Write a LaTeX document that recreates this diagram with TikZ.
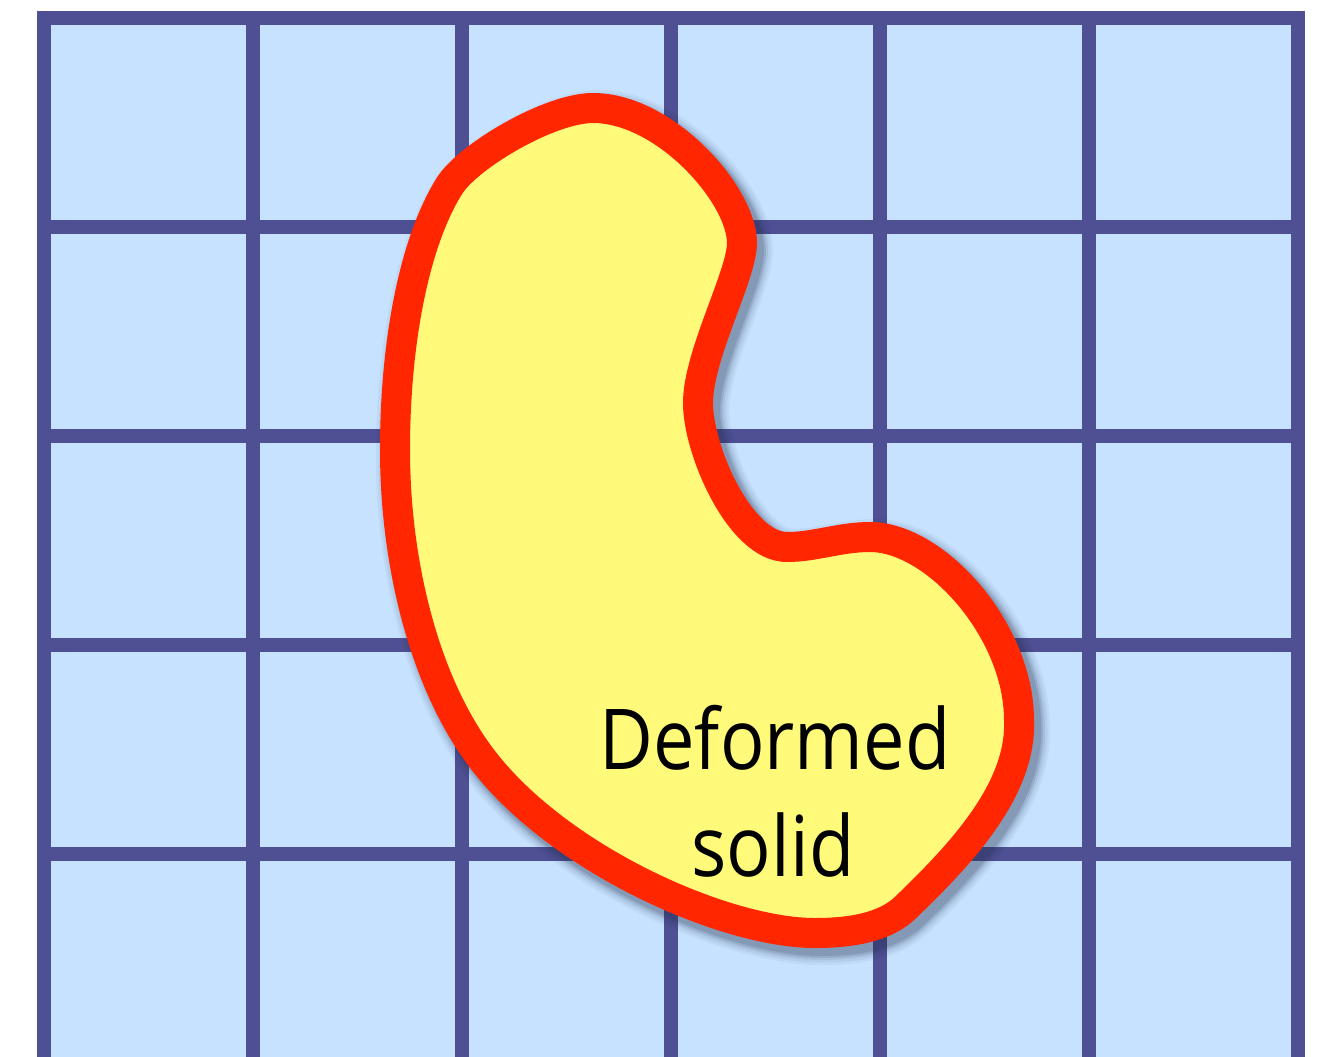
\documentclass[tikz,border=0pt]{standalone}
\usepackage{fontspec}
\newfontfamily\labfont[FakeStretch=0.88]{Open Sans}
\definecolor{gridline}{RGB}{79,79,148}
\definecolor{cellfill}{RGB}{199,226,255}
\definecolor{solidfill}{RGB}{255,250,122}
\definecolor{solidedge}{RGB}{255,38,0}
\definecolor{shadowc}{RGB}{35,50,80}
\tikzset{
  gridstroke/.style={draw=gridline, line width=10.1pt, line cap=rect},
  blobedge/.style={draw=solidedge, fill=solidfill, line width=22.5pt, line join=round},
  shadowstroke/.style={draw=shadowc, fill=shadowc, line join=round},
  labelstyle/.style={font=\labfont\fontsize{63}{80}\selectfont, align=center, text=black, inner sep=0pt}
}
\def\blobpath{(593,108) .. controls (665,108) and (742,195) .. (742,243)
  .. controls (742,275) and (698,355) .. (698,403)
  .. controls (698,450) and (740,547) .. (787,547)
  .. controls (815,547) and (840,537) .. (870,537)
  .. controls (935,537) and (1019,630) .. (1019,720)
  .. controls (1022,790) and (960,855) .. (905,908)
  .. controls (888,924) and (860,933) .. (815,933)
  .. controls (725,933) and (560,860) .. (483,760)
  .. controls (423,682) and (395,560) .. (395,450)
  .. controls (395,340) and (415,240) .. (450,185)
  .. controls (470,155) and (550,108) .. (593,108) -- cycle}
\begin{document}
\begin{tikzpicture}[x=0.75pt,y=-0.75pt]
\useasboundingbox (0,0) rectangle (1332,1057);
\clip (0,0) rectangle (1332,1057);
% grid
\fill[cellfill] (44,18) rectangle (1298,1080);
\foreach \k in {0,...,6} {
  \draw[gridstroke] (44+209*\k,18) -- (44+209*\k,1080);
}
\foreach \k in {0,...,4} {
  \draw[gridstroke] (44,18+209*\k) -- (1298,18+209*\k);
}
% shadow
\foreach \w/\o in {50/0.05, 45/0.07, 40/0.09, 36/0.12, 32/0.16} {
  \draw[shadowstroke, line width=\w*0.75pt, opacity=\o, shift={(6,7)}] \blobpath;
}
% solid
\draw[blobedge] \blobpath;
\node[labelstyle, anchor=base] (lab1) at (775,769) {Deformed};
\node[labelstyle, anchor=base] (lab2) at (773,876) {solid};
\end{tikzpicture}
\end{document}
